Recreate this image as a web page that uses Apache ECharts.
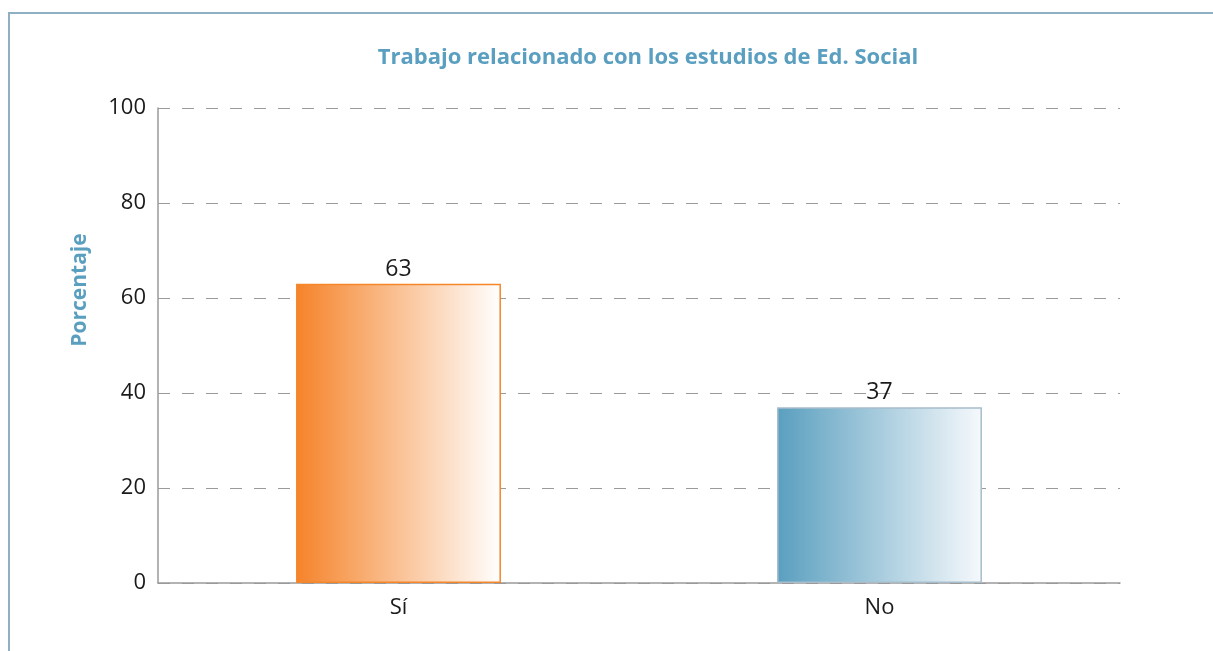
<!DOCTYPE html>
<html>
<head>
    <meta charset="utf-8">
    <title>ECharts</title>
    <script src="https://cdn.jsdelivr.net/npm/echarts@6/dist/echarts.min.js"></script>
    <style>
        html, body { margin: 0; padding: 0; background: #fff; }
    </style>
</head>
<body>
 <div id="main" style="width: 1213px;height:651px;"></div>
 <script type="text/javascript">
 // datos del gráfico
 var categories = ['Sí', 'No'];
 var values = [63, 37];
 var yTicks = [0, 20, 40, 60, 80, 100];

 var barColors = [
     { from: '#f5832a', to: '#ffffff', border: '#f5862a' },
     { from: '#5a9fbf', to: '#f6f9fc', border: '#a7bdcb' }
 ];

 var myChart = echarts.init(document.getElementById('main'));
 var font = '"Open Sans", "Noto Sans", sans-serif';

 myChart.setOption({
     animation: false,
     title: {
         text: 'Trabajo relacionado con los estudios de Ed. Social',
         left: 643,
         textAlign: 'center',
         top: 42,
         textStyle: {
             color: '#5a9fc0',
             fontSize: 22,
             fontWeight: 'bold',
             fontFamily: font
         }
     },
     grid: {
         left: 158,
         right: 93,
         top: 108,
         bottom: 68
     },
     xAxis: {
         type: 'category',
         data: categories,
         axisTick: { show: false },
         axisLine: { lineStyle: { color: '#9a9a9a', width: 1.5 } },
         axisLabel: {
             color: '#1a1a1a',
             fontSize: 22,
             margin: 14,
             fontFamily: font
         }
     },
     yAxis: {
         type: 'value',
         min: yTicks[0],
         max: yTicks[yTicks.length - 1],
         interval: 20,
         axisTick: { show: false },
         axisLine: { show: true, lineStyle: { color: '#9a9a9a', width: 1.5 } },
         axisLabel: {
             color: '#1a1a1a',
             fontSize: 22,
             margin: 12,
             fontFamily: font
         },
         splitLine: {
             lineStyle: { color: '#9a9a9a', type: [12, 12], width: 1 }
         }
     },
     graphic: [
         { type: 'line', shape: { x1: 8, y1: 13, x2: 1213, y2: 13 }, style: { stroke: '#8fb0c4', lineWidth: 2 } },
         { type: 'line', shape: { x1: 9, y1: 12, x2: 9, y2: 651 }, style: { stroke: '#8fb0c4', lineWidth: 2 } },
         {
             type: 'text',
             x: 80,
             y: 290,
             rotation: Math.PI / 2,
             style: {
                 text: 'Porcentaje',
                 fill: '#5a9fc0',
                 font: 'bold 21px ' + font,
                 align: 'center',
                 verticalAlign: 'middle'
             }
         }
     ],
     series: [{
         type: 'bar',
         barWidth: '42.6%',
         data: values.map(function (v, i) {
             var c = barColors[i];
             return {
                 value: v,
                 itemStyle: {
                     color: new echarts.graphic.LinearGradient(0, 0, 1, 0, [
                         { offset: 0, color: c.from },
                         { offset: 1, color: c.to }
                     ]),
                     borderColor: c.border,
                     borderWidth: 1.5
                 }
             };
         }),
         label: {
             show: true,
             position: 'top',
             distance: 3,
             color: '#1a1a1a',
             fontSize: 23,
             fontFamily: font
         }
     }]
 });
 </script>
</body>
</html>
